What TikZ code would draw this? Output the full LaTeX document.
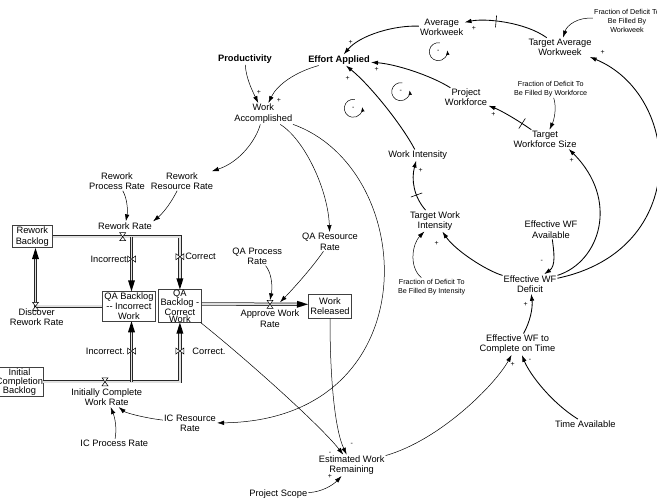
\documentclass[tikz,border=0pt]{standalone}
\usepackage{fontspec}
\setmainfont{Liberation Sans}
\usetikzlibrary{arrows.meta,math,calc,decorations.markings}

\newcommand\sdfont{\fontsize{9.3}{10.3}\selectfont}
\newcommand\sdsmall{\fontsize{7.2}{9}\selectfont}

\begin{document}
\begin{tikzpicture}[x=1pt,y=-1pt,>={Latex[length=7pt,width=4.5pt]},
	var/.style={align=center,inner sep=1pt,font=\sdfont},
	frac/.style={align=center,inner sep=1pt,font=\sdsmall},
	stock/.style={draw=black!75,line width=0.6pt,align=center,inner sep=0pt,font=\sdfont},
	lnk/.style={->,line width=0.5pt},
	lnkb/.style={->,line width=0.85pt},
	pipe/.style={draw=black!85,double=black!12,double distance=1.8pt,line width=0.75pt},
	pipeto/.style={pipe,shorten >=5.5pt,postaction={decorate,decoration={markings,
		mark=at position 1 with {\fill (-11pt,-3.5pt) -- (0pt,0pt) -- (-11pt,3.5pt) -- cycle;}}}},
	pol/.style={inner sep=0pt,font=\fontsize{7}{7}\selectfont},
	delaymark/.style={sloped,draw,inner sep=0pt,minimum height=12pt,minimum width=0pt,line width=0.6pt},
	hvalve/.pic={\draw[fill=white,line width=0.5pt] (-3pt,4pt)--(3pt,4pt)--(-3pt,-4pt)--(3pt,-4pt)--cycle;},
	vvalve/.pic={\draw[fill=white,line width=0.5pt] (-4pt,3pt)--(-4pt,-3pt)--(4pt,3pt)--(4pt,-3pt)--cycle;}]

\useasboundingbox (0,0) rectangle (657,498);

\tikzmath{
	real \xin, \xout, \yrw, \yqa, \yic;
	\xin = 131.5;
	\xout = 179.9;
	\yrw = 236.7;
	\yqa = 306.3;
	\yic = 381.8;
}

% stocks
\node[stock,minimum width=40pt,minimum height=22pt] (rb) at (32.3,\yrw) {Rework\\Backlog};
\node[stock,minimum width=52.3pt,minimum height=29.3pt] (qai) at (128.9,\yqa) {QA Backlog\\-{}- Incorrect\\Work};
\node[stock,minimum width=43.7pt,minimum height=30pt,font=\fontsize{9.3}{7}\selectfont] (qac) at (\xout,306) {QA\\Backlog -\\Correct\\Work};
\node[stock,minimum width=43.4pt,minimum height=24pt] (wr) at (330,\yqa) {Work\\Released};
\node[stock,minimum width=45.6pt,minimum height=28.3pt,font=\fontsize{9.3}{9.2}\selectfont] (icb) at (19.5,\yic) {Initial\\Completion\\Backlog};

% pipes
\coordinate (brw) at (\xin,\yrw);
\coordinate (bic) at (\xin,\yic);
\coordinate (crw) at (\xout,\yrw);
\coordinate (cic) at (\xout,\yic);
\coordinate (dv) at (35.5,\yqa);
\coordinate (vawr) at (270,304.3);
\draw[pipeto] (rb.east) -- (crw) -- (qac.north);
\draw[pipeto] (brw) -- (brw |- qai.north);
\draw[pipeto] (qai.west) -- (dv) -- (dv |- rb.south);
\draw[pipeto] (icb.east) -- (cic) -- (qac.south);
\draw[pipeto] (bic) -- (bic |- qai.south);
\draw[pipeto] ([yshift=2pt]qac.east) -- ([yshift=2pt]wr.west);

% valves
\pic at (122.7,\yrw) {hvalve};
\pic at (dv) {hvalve};
\pic at (\xin,259) {vvalve};
\pic at (\xout,256.7) {vvalve};
\pic at (\xin,351) {vvalve};
\pic at (\xout,351) {vvalve};
\pic at (105,\yic) {hvalve};
\pic at (vawr) {hvalve};

% rates
\node[var] (rr) at (125,226) {Rework Rate};
\node[var] (drr) at (36.7,317.3) {Discover\\Rework Rate};
\node[var] (inc) at (108.7,259) {Incorrect};
\node[var] (cor) at (200.5,256.7) {Correct};
\node[var] (inc2) at (105.3,351) {Incorrect.};
\node[var] (cor2) at (209,351) {Correct.};
\node[var] (icwr) at (106.7,397.3) {Initially Complete\\Work Rate};
\node[var] (awr) at (270,318.7) {Approve Work\\Rate};

% auxiliaries
\node[var] (rpr) at (117,181) {Rework\\Process Rate};
\node[var] (rsr) at (182,181) {Rework\\Resource Rate};
\node[var] (qpr) at (257.3,256) {QA Process\\Rate};
\node[var] (qrr) at (330,241.7) {QA Resource\\Rate};
\node[var] (icrr) at (190,423.3) {IC Resource\\Rate};
\node[var] (icpr) at (114.3,443.3) {IC Process Rate};
\node[var,font=\sdfont\bfseries] (prod) at (245,59.3) {Productivity};
\node[var,font=\sdfont\bfseries] (ea) at (339,60) {Effort Applied};
\node[var] (wa) at (263.3,113.7) {Work\\Accomplished};
\node[var] (aww) at (441.7,27.3) {Average\\Workweek};
\node[var] (taw) at (560,47.3) {Target Average\\Workweek};
\node[frac] (fdw) at (627,21) {Fraction of Deficit To\\Be Filled By\\Workweek};
\node[var] (pw) at (466,97.5) {Project\\Workforce};
\node[frac] (fdf) at (550.7,88.8) {Fraction of Deficit To\\Be Filled By Workforce};
\node[var] (tws) at (545,139.3) {Target\\Workforce Size};
\node[var] (wi) at (417.7,155) {Work Intensity};
\node[var] (twi) at (435,220.8) {Target Work\\Intensity};
\node[var] (ewfa) at (551,229.7) {Effective WF\\Available};
\node[frac] (fdi) at (431.7,286.8) {Fraction of Deficit To\\Be Filled By Intensity};
\node[var] (ewfd) at (530,284) {Effective WF\\Deficit};
\node[var] (ewfc) at (517.5,344.2) {Effective WF to\\Complete on Time};
\node[var] (ta) at (585.3,423.7) {Time Available};
\node[var] (ewr) at (351.7,465.3) {Estimated Work\\Remaining};
\node[var] (ps) at (278.3,494) {Project Scope};

% links
\draw[lnk] (prod) .. controls (246,78) and (252,90) .. (wa);
\draw[lnk] (ea) .. controls (295,72) and (277,85) .. (wa);
\draw[lnk] (wa) .. controls (256,140) and (240,162) .. (rsr);
\draw[lnk] (wa) .. controls (305,140) and (328,190) .. (qrr);
\draw[lnk] (wa) .. controls (420,170) and (430,420) .. (icrr);
\draw[lnk] (rpr) .. controls (127,198) and (128,210) .. (rr);
\draw[lnk] (rsr) .. controls (170,205) and (162,214) .. (rr.north east);
\draw[lnk] (qpr) .. controls (271,272) and (273,285) .. ([yshift=4pt]vawr);
\draw[lnk] (qrr) .. controls (312,268) and (292,290) .. ([xshift=10pt,yshift=2pt]vawr);
\draw[lnk] (icpr) .. controls (117,428) and (115,418) .. (icwr);
\draw[lnk] (icrr) .. controls (145,418) and (126,413) .. (icwr);
\draw[lnk] (qac) .. controls (245,358) and (320,425) .. (ewr);
\draw[lnk] (wr) .. controls (330,380) and (335,430) .. (ewr);
\draw[lnk] (ps) .. controls (322,492) and (333,485) .. (ewr);
\draw[lnk] (ewr) .. controls (440,440) and (495,385) .. (ewfc);
\draw[lnkb] (ta) .. controls (552,403) and (530,375) .. (ewfc);
\draw[lnkb] (ewfc) .. controls (530,322) and (533,308) .. (ewfd);
\draw[lnkb] (ewfa) .. controls (554,252) and (556,266) .. (ewfd);
\draw[lnkb] (ewfd) .. controls (485,270) and (455,250) .. (twi);
\draw[lnk] (fdi) .. controls (408,266) and (413,243) .. (twi);
\draw[lnkb] (twi) .. controls (414,197) and (411,180) .. node[delaymark,pos=0.35] (d1) {} (wi);
\draw[lnkb] (wi) .. controls (402,125) and (370,85) .. (ea);
\draw[lnkb] (pw) .. controls (430,75) and (395,64) .. (ea);
\draw[lnkb] (aww) .. controls (395,25) and (360,35) .. (ea);
\draw[lnkb] (taw) .. controls (525,22) and (485,18) .. node[delaymark,pos=0.6] (d2) {} (aww);
\draw[lnk] (fdw) .. controls (578,17) and (567,25) .. (taw);
\draw[lnkb] (tws) .. controls (516,119) and (500,110) .. node[delaymark,pos=0.2] (d3) {} (pw);
\draw[lnk] (fdf) .. controls (557,108) and (554,120) .. (tws);
\draw[lnkb] (ewfd) .. controls (600,262) and (620,200) .. ([xshift=-9pt]tws.south east);
\draw[lnkb] (ewfd) .. controls (692,250) and (682,95) .. ([xshift=-3pt]taw.south east);

% polarities
\node[pol] (s1) at (259,92.3) {+};
\node[pol] (s2) at (279,100.7) {+};
\node[pol] (s3) at (350.7,42.3) {+};
\node[pol] (s4) at (376.7,69) {+};
\node[pol] (s5) at (347.7,78.3) {+};
\node[pol] (s6) at (474,28.3) {+};
\node[pol] (s7) at (602.7,52.7) {+};
\node[pol] (s8) at (493.3,114.3) {+};
\node[pol] (s9) at (571.7,160.7) {+};
\node[pol] (s10) at (420.7,170) {+};
\node[pol] (s11) at (436.7,243.3) {+};
\node[pol] (s12) at (541.7,261.7) {-};
\node[pol] (s13) at (525.7,304.3) {+};
\node[pol] (s14) at (512.7,364.3) {+};
\node[pol] (s15) at (530,360.7) {-};
\node[pol] (s16) at (330,453.3) {-};
\node[pol] (s17) at (351.7,444) {-};
\node[pol] (s18) at (330,476.7) {+};

% loops
\foreach \n/\p in {l1/{(438.3,51.7)},l2/{(400.7,91.7)},l3/{(353.3,108.3)}}{
	\node[pol] (\n) at \p {-};
	\draw[line width=0.5pt,-{Latex[length=4.5pt,width=3.5pt]}] ([shift={(80:9pt)}]\n.center) arc[start angle=80,end angle=368,radius=9pt];
}

\end{tikzpicture}
\end{document}
